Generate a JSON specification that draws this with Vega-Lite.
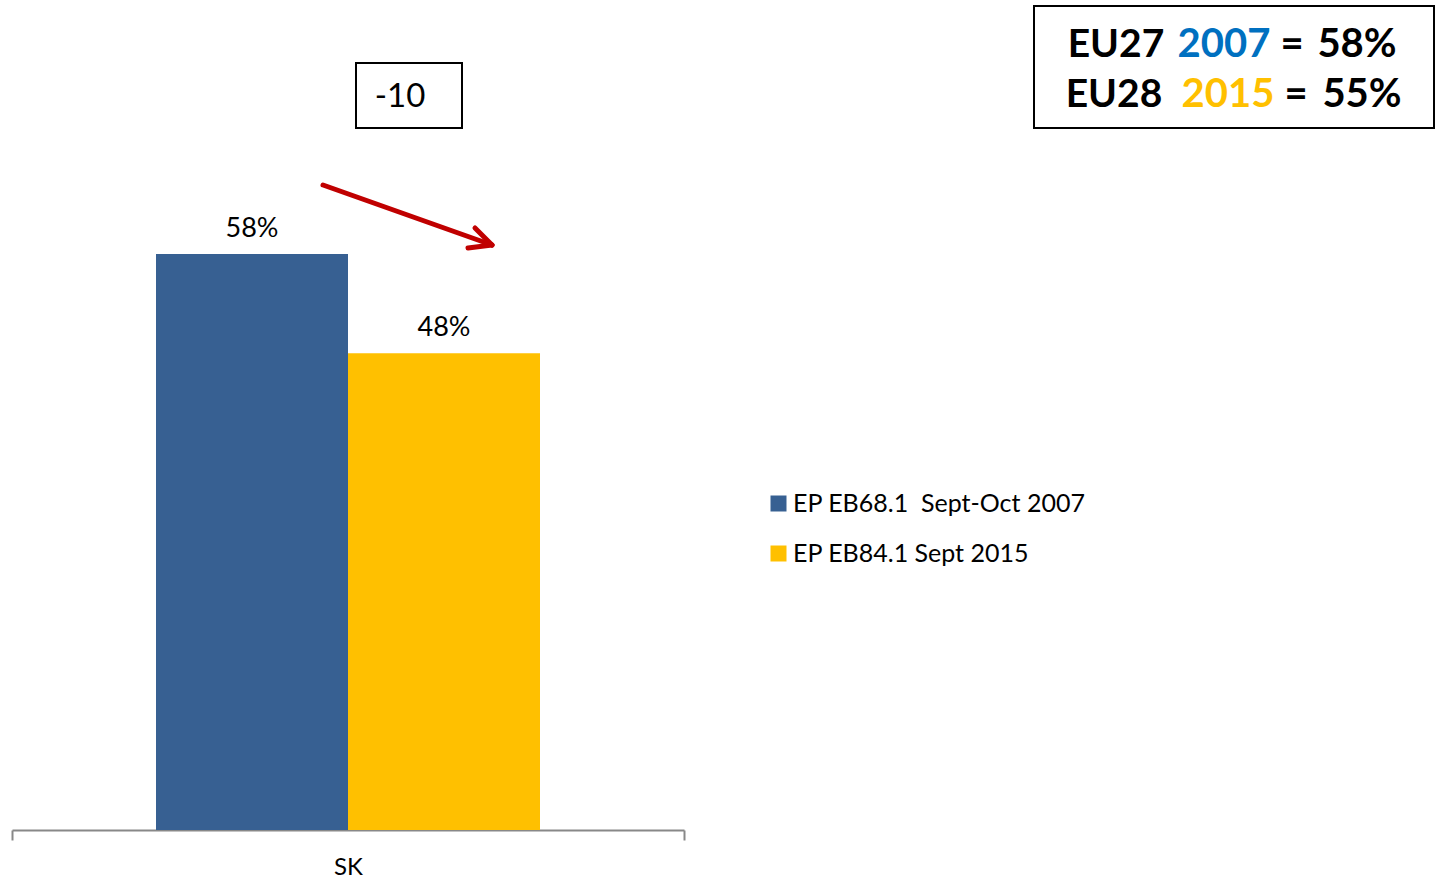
{
  "$schema": "https://vega.github.io/schema/vega-lite/v6.json",
  "width": 1438,
  "height": 830,
  "autosize": {"type": "none"},
  "padding": {"left": 0, "top": 0, "right": 0, "bottom": 49},
  "background": "white",
  "config": {"view": {"stroke": null}, "font": "Lato"},
  "data": {"values": [
    {"country": "SK", "survey": "EP EB68.1\u00a0 Sept-Oct 2007", "value": 0.58},
    {"country": "SK", "survey": "EP EB84.1 Sept 2015", "value": 0.48}
  ]},
  "layer": [
    {
      "mark": {"type": "bar"},
      "encoding": {
        "x": {"field": "country", "type": "nominal",
          "scale": {"range": [12, 684], "paddingInner": 0, "paddingOuter": 0},
          "axis": {"title": null, "tickBand": "extent", "domainColor": "#888888", "tickColor": "#888888",
            "tickSize": 10, "domainWidth": 2, "tickWidth": 2, "labelFontSize": 24, "labelColor": "black",
            "labelPadding": 15, "labelAngle": 0, "labelFont": "Lato"}},
        "xOffset": {"field": "survey", "type": "nominal", "scale": {"paddingInner": 0, "paddingOuter": 0.75}},
        "y": {"field": "value", "type": "quantitative", "scale": {"domain": [0, 0.8358], "nice": false}, "axis": null},
        "color": {"field": "survey", "type": "nominal",
          "scale": {"range": ["#376092", "#FFC000"]},
          "legend": {"orient": "none", "legendX": 766, "legendY": 491, "title": null, "symbolType": "square",
            "symbolSize": 256, "symbolStrokeWidth": 0, "labelFontSize": 25, "labelColor": "black",
            "rowPadding": 24, "labelOffset": 2, "padding": 0, "labelFont": "Lato", "labelLimit": 600}}
      }
    },
    {
      "mark": {"type": "text", "fontSize": 27, "baseline": "alphabetic", "dy": -17, "color": "black"},
      "encoding": {
        "x": {"field": "country", "type": "nominal"},
        "xOffset": {"field": "survey", "type": "nominal"},
        "y": {"field": "value", "type": "quantitative"},
        "text": {"field": "value", "type": "quantitative", "format": ".0%"}
      }
    },
    {
      "data": {"values": [{}]},
      "mark": {"type": "rect", "fill": "white", "stroke": "black", "strokeWidth": 2},
      "encoding": {"x": {"value": 356}, "x2": {"value": 462}, "y": {"value": 63}, "y2": {"value": 128}}
    },
    {
      "data": {"values": [{}]},
      "mark": {"type": "text", "text": "-10", "fontSize": 33, "align": "center", "baseline": "middle", "color": "black"},
      "encoding": {"x": {"value": 400}, "y": {"value": 97}}
    },
    {
      "data": {"values": [{}]},
      "mark": {"type": "rect", "fill": "white", "stroke": "black", "strokeWidth": 2},
      "encoding": {"x": {"value": 1034}, "x2": {"value": 1434}, "y": {"value": 6}, "y2": {"value": 128}}
    },
    {
      "data": {"values": [{}]},
      "mark": {"type": "text", "text": "EU27", "fontSize": 39, "fontWeight": "bold", "align": "center", "baseline": "alphabetic", "color": "black"},
      "encoding": {"x": {"value": 1116}, "y": {"value": 57}}
    },
    {
      "data": {"values": [{}]},
      "mark": {"type": "text", "text": "2007", "fontSize": 40, "fontWeight": "bold", "align": "center", "baseline": "alphabetic", "color": "#0070C0"},
      "encoding": {"x": {"value": 1224}, "y": {"value": 57}}
    },
    {
      "data": {"values": [{}]},
      "mark": {"type": "text", "text": "=", "fontSize": 40, "fontWeight": "bold", "align": "center", "baseline": "alphabetic", "color": "black"},
      "encoding": {"x": {"value": 1292}, "y": {"value": 57}}
    },
    {
      "data": {"values": [{}]},
      "mark": {"type": "text", "text": "58%", "fontSize": 40, "fontWeight": "bold", "align": "center", "baseline": "alphabetic", "color": "black"},
      "encoding": {"x": {"value": 1357}, "y": {"value": 57}}
    },
    {
      "data": {"values": [{}]},
      "mark": {"type": "text", "text": "EU28", "fontSize": 39, "fontWeight": "bold", "align": "center", "baseline": "alphabetic", "color": "black"},
      "encoding": {"x": {"value": 1114}, "y": {"value": 107}}
    },
    {
      "data": {"values": [{}]},
      "mark": {"type": "text", "text": "2015", "fontSize": 40, "fontWeight": "bold", "align": "center", "baseline": "alphabetic", "color": "#FFC000"},
      "encoding": {"x": {"value": 1228}, "y": {"value": 107}}
    },
    {
      "data": {"values": [{}]},
      "mark": {"type": "text", "text": "=", "fontSize": 40, "fontWeight": "bold", "align": "center", "baseline": "alphabetic", "color": "black"},
      "encoding": {"x": {"value": 1296}, "y": {"value": 107}}
    },
    {
      "data": {"values": [{}]},
      "mark": {"type": "text", "text": "55%", "fontSize": 40, "fontWeight": "bold", "align": "center", "baseline": "alphabetic", "color": "black"},
      "encoding": {"x": {"value": 1362}, "y": {"value": 107}}
    },
    {
      "data": {"values": [{}]},
      "mark": {"type": "rule", "color": "#C00000", "strokeWidth": 5, "strokeCap": "round"},
      "encoding": {"x": {"value": 323}, "y": {"value": 185}, "x2": {"value": 492}, "y2": {"value": 245}}
    },
    {
      "data": {"values": [{}]},
      "mark": {"type": "rule", "color": "#C00000", "strokeWidth": 5, "strokeCap": "round"},
      "encoding": {"x": {"value": 475}, "y": {"value": 228}, "x2": {"value": 492}, "y2": {"value": 245}}
    },
    {
      "data": {"values": [{}]},
      "mark": {"type": "rule", "color": "#C00000", "strokeWidth": 5, "strokeCap": "round"},
      "encoding": {"x": {"value": 468}, "y": {"value": 248}, "x2": {"value": 492}, "y2": {"value": 245}}
    }
  ]
}
